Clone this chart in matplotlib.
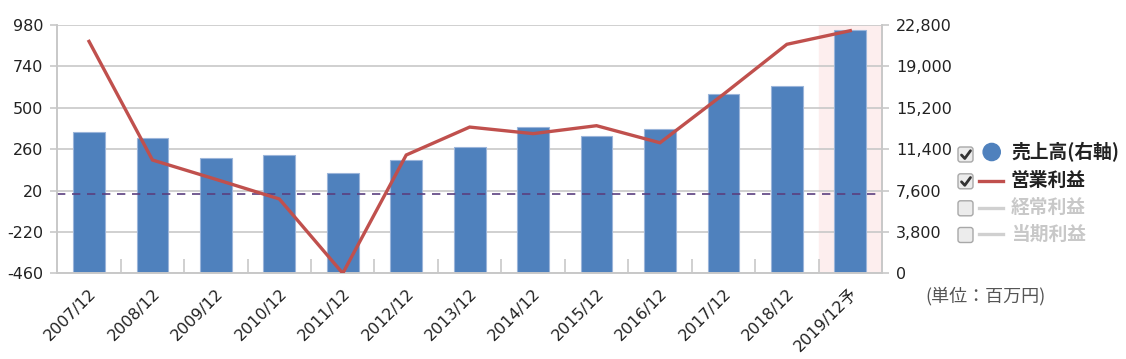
import matplotlib
matplotlib.use("Agg")
import matplotlib.pyplot as plt
from matplotlib.patches import FancyBboxPatch, Circle
from matplotlib.lines import Line2D

plt.rcParams['font.family'] = ['DejaVu Sans', 'Noto Sans CJK JP']
CJK = ['Noto Sans CJK JP', 'DejaVu Sans']

categories = ['2007/12', '2008/12', '2009/12', '2010/12', '2011/12', '2012/12', '2013/12',
              '2014/12', '2015/12', '2016/12', '2017/12', '2018/12', '2019/12予']
sales = [12950, 12420, 10590, 10860, 9210, 10430, 11600, 13460, 12640, 13220, 16490, 17200, 22310]
op_profit = [885, 197, 85, -29, -460, 226, 388, 350, 396, 297, 578, 868, 947]
left_ticks = [-460, -220, 20, 260, 500, 740, 980]
right_ticks = [0, 3800, 7600, 11400, 15200, 19000, 22800]
legend_labels = ['売上高(右軸)', '営業利益', '経常利益', '当期利益']
unit_label = '(単位：百万円)'

W, H = 1126, 359
fig = plt.figure(figsize=(W / 100, H / 100), dpi=100)
L, R, T, B = 57.3, 882, 25, 273.3
ax2 = fig.add_axes([L / W, 1 - B / H, (R - L) / W, (B - T) / H])
ax = ax2.twinx()
ax.yaxis.tick_left()
ax2.yaxis.tick_right()
ax.yaxis.set_label_position('left')

x = list(range(len(categories)))
grid_c = '#c8c8c8'
text_c = '#222222'
fs = 11.5

# right axis: bars
ax2.axvspan(len(categories) - 1.5, len(categories) - 0.5, color='#fdeeee', zorder=0)
ax2.bar(x, sales, width=0.5, color='#4f81bd', edgecolor='#9bb5da', linewidth=0.8, zorder=2)
ax2.set_ylim(right_ticks[0], right_ticks[-1])
ax2.set_yticks(right_ticks)
ax2.set_yticklabels([f'{v:,}' for v in right_ticks])
ax2.yaxis.grid(True, color=grid_c, linewidth=1.2, zorder=0.5)
ax2.set_axisbelow(True)
ax2.set_xlim(-0.5, len(categories) - 0.5)
ax2.set_xticks(x)
ax2.set_xticklabels(categories, rotation=45, ha='right', rotation_mode='anchor')
ax2.tick_params(axis='x', length=0, pad=9, labelsize=fs, labelcolor=text_c)
ax2.set_xticks([i + 0.5 for i in range(len(categories) - 1)], minor=True)
ax2.tick_params(axis='x', which='minor', direction='in', length=10, color=grid_c, width=1.2)
ax2.tick_params(axis='y', length=5, color=grid_c, width=1.2, pad=5, labelsize=fs, labelcolor=text_c)

# left axis: line
ax.set_zorder(ax2.get_zorder() + 1)
ax.patch.set_visible(False)
ax.axhline(0, color='#5b3f7f', linestyle=(0, (5, 4)), linewidth=1.2, zorder=1)
ax.plot(x, op_profit, color='#c0504d', linewidth=2.4, zorder=3, solid_joinstyle='miter')
ax.set_ylim(left_ticks[0], left_ticks[-1])
ax.set_yticks(left_ticks)
ax.set_yticklabels([str(v) for v in left_ticks])
ax.tick_params(axis='y', length=5, color=grid_c, width=1.2, pad=5, labelsize=fs, labelcolor=text_c)

for a in (ax, ax2):
    a.spines['top'].set_visible(False)
    for s in ['left', 'right', 'bottom']:
        a.spines[s].set_color(grid_c)
        a.spines[s].set_linewidth(1.2)

# legend overlay in pixel coordinates
ov = fig.add_axes([0, 0, 1, 1])
ov.set_xlim(0, W)
ov.set_ylim(H, 0)
ov.axis('off')
ys = [154.5, 181.3, 208.3, 235]
checked = [True, True, False, False]
for y, chk in zip(ys, checked):
    ov.add_patch(FancyBboxPatch((958, y - 7.5), 15, 15, boxstyle='round,pad=0,rounding_size=2.5',
                                facecolor='#ececec', edgecolor='#a8a8a8', linewidth=1.0))
    if chk:
        ov.plot([961.5, 964.8, 970.5], [y + 0.5, y + 4.0, y - 3.8], color='#333333', linewidth=2.0,
                solid_capstyle='round', solid_joinstyle='round')
ov.add_patch(Circle((991.7, 152), 8.6, color='#4f81bd'))
ov.add_line(Line2D([979, 1003], [180.7, 180.7], color='#c0504d', linewidth=2.4))
ov.add_line(Line2D([979, 1003], [207.7, 207.7], color='#d0d0d0', linewidth=2.4))
ov.add_line(Line2D([979, 1003], [234.3, 234.3], color='#d0d0d0', linewidth=2.4))
label_colors = ['#222222', '#222222', '#c8c8c8', '#c8c8c8']
label_ys = [152.5, 180.5, 207.5, 234]
for lab, c, y in zip(legend_labels, label_colors, label_ys):
    ov.text(1011, y, lab, fontsize=13.5, fontweight='bold', color=c, va='center', ha='left',
            family=CJK)
ov.text(925, 296, unit_label, fontsize=13, color='#555555', va='center', ha='left', family=CJK)

fig.savefig('out.png', dpi=100)
